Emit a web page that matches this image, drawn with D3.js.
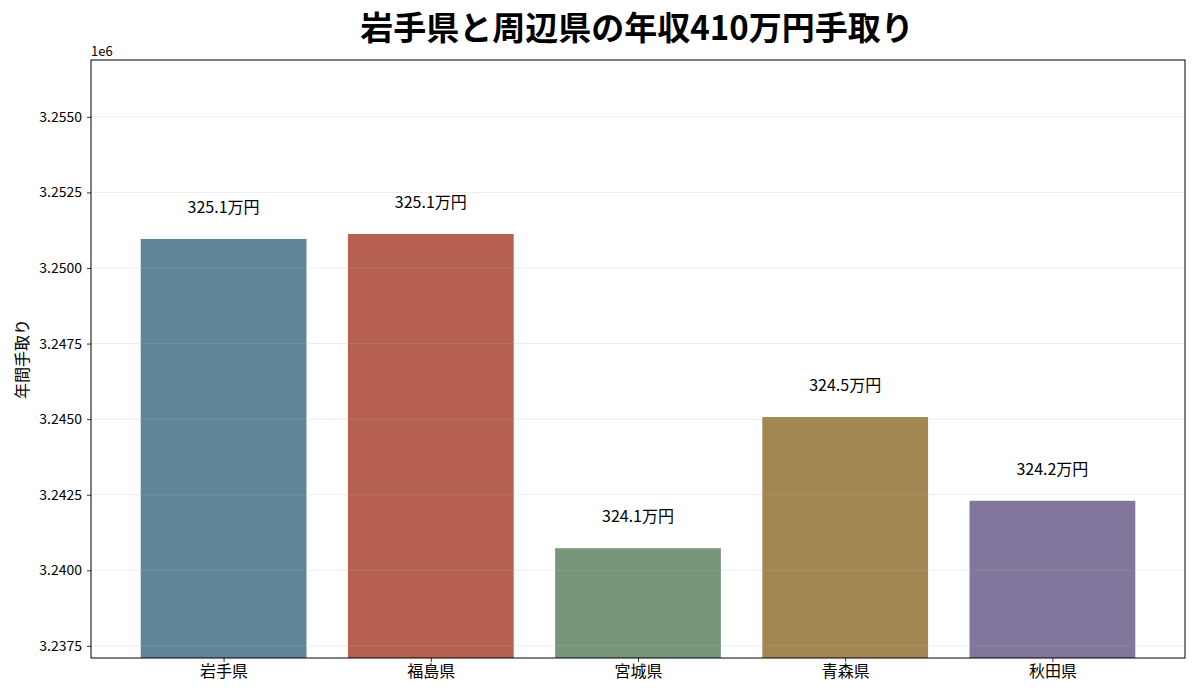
<!DOCTYPE html>
<html>
<head>
<meta charset="utf-8">
<script src="https://cdn.jsdelivr.net/npm/d3@7"></script>
<style>
  body { margin: 0; background: #fff; }
  svg text { font-family: "Noto Sans CJK JP", "Noto Sans", sans-serif; }
</style>
</head>
<body>
<svg id="chart" width="1200" height="700"></svg>
<script>
// prefectures and take-home pay (yen)
var prefectures = ["岩手県", "福島県", "宮城県", "青森県", "秋田県"];
var takeHome = [3250960, 3251125, 3240730, 3245070, 3242300];
var barLabels = ["325.1万円", "325.1万円", "324.1万円", "324.5万円", "324.2万円"];
var barColors = ["#5f8596", "#b56050", "#77957b", "#a38752", "#82769c"];
var yTicks = [3237500, 3240000, 3242500, 3245000, 3247500, 3250000, 3252500, 3255000];
var yDomain = [3237100, 3256880];

var svg = d3.select("#chart");
var margin = {top: 60, right: 15, bottom: 42, left: 91};
var width = 1200 - margin.left - margin.right;
var height = 700 - margin.top - margin.bottom;

var g = svg.append("g")
    .attr("transform", "translate(" + margin.left + "," + margin.top + ")");

// matplotlib-like x range: bars of width 0.8 with 5% margins
var x = d3.scaleLinear()
    .domain([-0.64, prefectures.length - 1 + 0.64])
    .range([0, width]);
var barW = x(0.8) - x(0);

var y = d3.scaleLinear().domain(yDomain).range([height, 0]);

// bars
g.selectAll("rect.bar")
    .data(takeHome)
    .enter().append("rect")
    .attr("class", "bar")
    .attr("x", function (d, i) { return x(i) - barW / 2; })
    .attr("y", function (d) { return y(d); })
    .attr("width", barW)
    .attr("height", function (d) { return height - y(d); })
    .attr("fill", function (d, i) { return barColors[i]; });

// grid over bars (faint)
g.selectAll("line.grid")
    .data(yTicks)
    .enter().append("line")
    .attr("class", "grid")
    .attr("x1", 0).attr("x2", width)
    .attr("y1", function (d) { return y(d); })
    .attr("y2", function (d) { return y(d); })
    .attr("stroke", "#b0b0b0")
    .attr("stroke-opacity", 0.3)
    .attr("stroke-width", 0.8);

// value labels above bars
g.selectAll("text.val")
    .data(takeHome)
    .enter().append("text")
    .attr("class", "val")
    .attr("x", function (d, i) { return x(i); })
    .attr("y", function (d) { return y(d) - 26; })
    .attr("text-anchor", "middle")
    .attr("font-size", 16)
    .attr("fill", "#000")
    .text(function (d, i) { return barLabels[i]; });

// axes
var yAxis = d3.axisLeft(y)
    .tickValues(yTicks)
    .tickSize(4)
    .tickPadding(5)
    .tickFormat(function (d) { return (d / 1e6).toFixed(4); });
var yg = g.append("g").call(yAxis);
yg.selectAll("text").attr("font-size", 14).attr("fill", "#000");

var xAxis = d3.axisBottom(x)
    .tickValues(d3.range(prefectures.length))
    .tickSize(4)
    .tickPadding(4)
    .tickFormat(function (d) { return prefectures[d]; });
var xg = g.append("g").attr("transform", "translate(0," + height + ")").call(xAxis);
xg.selectAll("text").attr("font-size", 16).attr("fill", "#000");

[yg, xg].forEach(function (a) {
    a.select(".domain").remove();
    a.selectAll("line").attr("stroke", "#000").attr("stroke-width", 0.8);
});

// frame
g.append("rect")
    .attr("width", width).attr("height", height)
    .attr("fill", "none").attr("stroke", "#000").attr("stroke-width", 1);

// offset text
g.append("text")
    .attr("x", 0).attr("y", -4)
    .attr("font-size", 13)
    .text("1e6");

// y label
svg.append("text")
    .attr("transform", "translate(28," + (margin.top + height / 2) + ") rotate(-90)")
    .attr("text-anchor", "middle")
    .attr("font-size", 16)
    .text("年間手取り");

// title
svg.append("text")
    .attr("x", 637).attr("y", 40)
    .attr("text-anchor", "middle")
    .attr("font-size", 33)
    .attr("font-weight", "bold")
    .text("岩手県と周辺県の年収410万円手取り");
</script>
</body>
</html>
